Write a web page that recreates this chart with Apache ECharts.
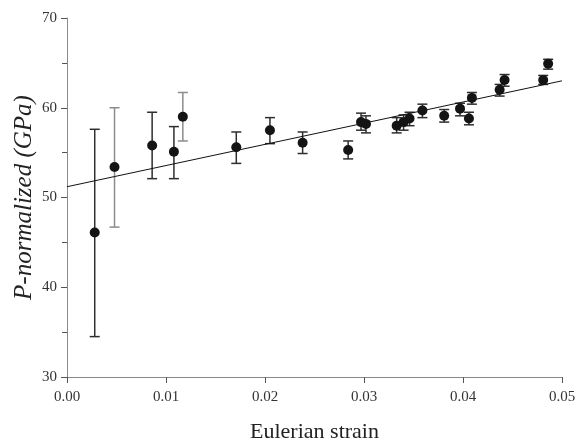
<!DOCTYPE html>
<html>
<head>
<meta charset="utf-8">
<script src="https://cdn.jsdelivr.net/npm/echarts@6/dist/echarts.min.js"></script>
<style>
html, body { margin: 0; padding: 0; background: #fff; }
#container { width: 580px; height: 442px; }
</style>
</head>
<body>
<div id="container"></div>
<script>
// measured points: Eulerian strain vs P-normalized (GPa)
var strain  = [0.0028, 0.0048, 0.0086, 0.0108, 0.0117, 0.0171, 0.0205, 0.0238, 0.0284, 0.0297, 0.0302,
               0.0333, 0.0340, 0.0346, 0.0359, 0.0381, 0.0397, 0.0406, 0.0409, 0.0437, 0.0442, 0.0481, 0.0486];
var pNorm   = [46.1, 53.4, 55.8, 55.1, 59.0, 55.6, 57.5, 56.1, 55.3, 58.4, 58.2,
               58.0, 58.4, 58.8, 59.7, 59.1, 59.9, 58.8, 61.1, 62.0, 63.1, 63.1, 64.9];
var errHigh = [57.6, 60.0, 59.5, 57.9, 61.7, 57.3, 58.9, 57.3, 56.3, 59.4, 59.1,
               58.9, 59.2, 59.5, 60.4, 59.8, 60.5, 59.5, 61.7, 62.6, 63.7, 63.6, 65.4];
var errLow  = [34.5, 46.7, 52.1, 52.1, 56.3, 53.8, 56.0, 54.9, 54.3, 57.5, 57.2,
               57.2, 57.5, 58.0, 58.9, 58.4, 59.1, 58.1, 60.4, 61.3, 62.4, 62.6, 64.3];
// linear fit, read at both ends of the axis
var fitX = [0.0, 0.05];
var fitY = [51.2, 63.0];

var lightBars = [1, 4];   // error bars drawn in pale grey

var dom = document.getElementById('container');
var myChart = echarts.init(dom);
var serif = 'Liberation Serif';

var points = strain.map(function (x, i) { return [x, pNorm[i]]; });
var bars = strain.map(function (x, i) { return [x, errLow[i], errHigh[i], i]; });
var fit = fitX.map(function (x, i) { return [x, fitY[i]]; });

option = {
    animation: false,
    grid: { left: 67, right: 18, top: 18, bottom: 65, outerBoundsMode: 'none', containLabel: false },
    xAxis: {
        type: 'value',
        min: 0, max: 0.05, interval: 0.01,
        name: 'Eulerian strain',
        nameLocation: 'middle',
        nameGap: 44,
        nameMoveOverlap: false,
        nameTextStyle: { fontFamily: serif, fontSize: 22, color: '#222' },
        axisLine: { lineStyle: { color: '#8a8a8a', width: 1 } },
        axisTick: { show: true, length: 6, lineStyle: { color: '#555' } },
        axisLabel: {
            fontFamily: serif, fontSize: 15, color: '#333', margin: 13,
            formatter: function (v) { return v.toFixed(2); }
        },
        splitLine: { show: false }
    },
    yAxis: {
        type: 'value',
        min: 30, max: 70, interval: 10,
        name: 'P-normalized (GPa)',
        nameLocation: 'middle',
        nameRotate: 90,
        nameGap: 30,
        nameMoveOverlap: false,
        nameTextStyle: { fontFamily: serif, fontSize: 25, fontStyle: 'italic', color: '#222' },
        axisLine: { show: true, lineStyle: { color: '#8a8a8a', width: 1 } },
        axisTick: { show: true, length: 6, lineStyle: { color: '#555' } },
        minorTick: { show: true, splitNumber: 2, length: 5, lineStyle: { color: '#555' } },
        axisLabel: { fontFamily: serif, fontSize: 15, color: '#333', margin: 10 },
        splitLine: { show: false }
    },
    series: [
        {
            type: 'custom',
            data: bars,
            z: 1,
            renderItem: function (params, api) {
                var x = api.value(0);
                var lo = api.coord([x, api.value(1)]);
                var hi = api.coord([x, api.value(2)]);
                var w = 5;
                var col = lightBars.indexOf(api.value(3)) >= 0 ? '#8c8c8c' : '#2e2e2e';
                var st = { stroke: col, lineWidth: 1.5 };
                return {
                    type: 'group',
                    children: [
                        { type: 'line', shape: { x1: hi[0], y1: hi[1], x2: lo[0], y2: lo[1] }, style: st },
                        { type: 'line', shape: { x1: hi[0] - w, y1: hi[1], x2: hi[0] + w, y2: hi[1] }, style: st },
                        { type: 'line', shape: { x1: lo[0] - w, y1: lo[1], x2: lo[0] + w, y2: lo[1] }, style: st }
                    ]
                };
            }
        },
        {
            type: 'line',
            data: fit,
            z: 2,
            symbol: 'none',
            lineStyle: { color: '#111', width: 1 }
        },
        {
            type: 'scatter',
            data: points,
            z: 3,
            symbol: 'circle',
            symbolSize: 10,
            itemStyle: { color: '#141414', opacity: 1 }
        }
    ]
};
if (option && typeof option === "object") {
    myChart.setOption(option, true);
}
</script>
</body>
</html>
